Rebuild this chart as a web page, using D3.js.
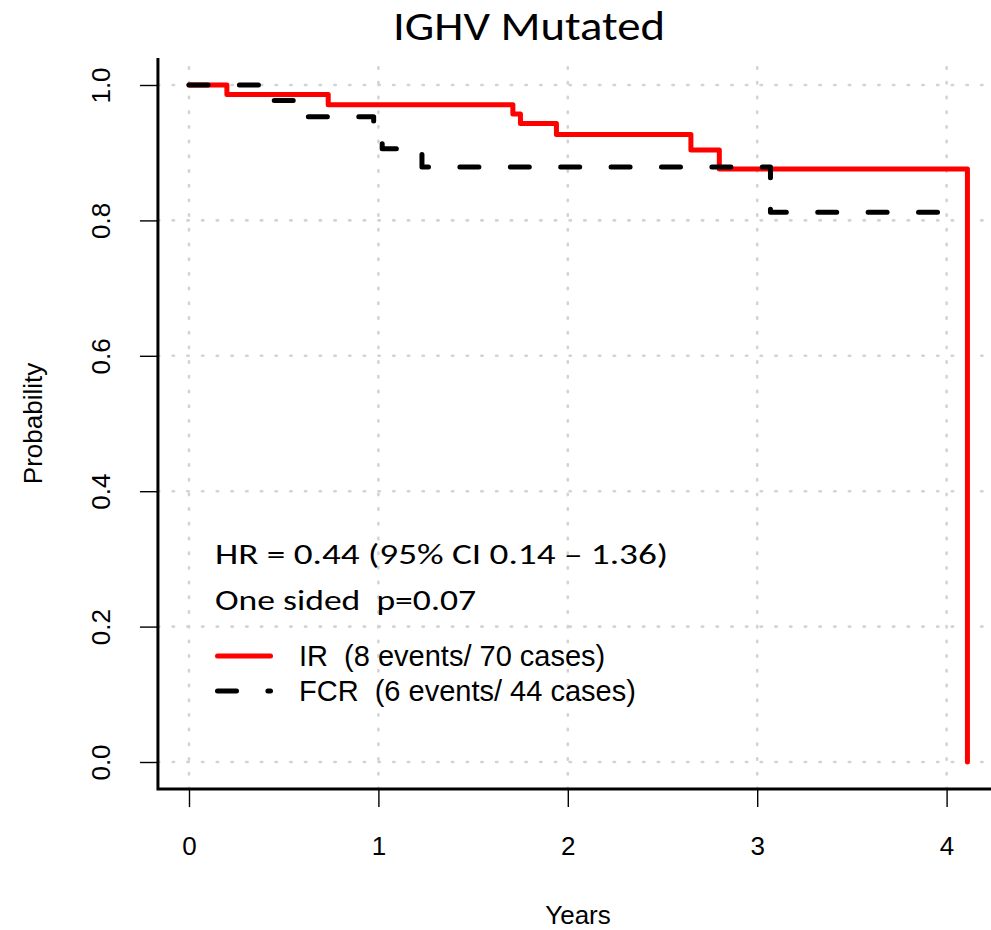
<!DOCTYPE html>
<html>
<head>
<meta charset="utf-8">
<script src="https://cdn.jsdelivr.net/npm/d3@7"></script>
<style>
  html, body { margin: 0; padding: 0; background: #ffffff; }
  svg { display: block; }
  text { white-space: pre; }
</style>
</head>
<body>
<svg id="chart" width="991" height="930"></svg>
<script>
// Kaplan–Meier step curves (time in years, survival probability)
const irTimes  = [0, 0.20, 0.735, 1.71, 1.75, 1.94, 2.65, 2.80, 4.11];
const irSurv   = [1, 0.986, 0.971, 0.957, 0.943, 0.927, 0.904, 0.876, 0];
const fcrTimes = [0, 0.41, 0.60, 0.975, 1.02, 1.23, 3.07, 4.0];
const fcrSurv  = [1, 0.977, 0.953, 0.932, 0.906, 0.879, 0.812, 0.812];

// Axis ticks
const xTicks = [0, 1, 2, 3, 4];
const yTicks = [0, 0.2, 0.4, 0.6, 0.8, 1.0];

// Text
const titleText = "IGHV Mutated";
const xLabel = "Years";
const yLabel = "Probability";
const statLines = ["HR = 0.44 (95% CI 0.14 \u2013 1.36)", "One sided  p=0.07"];
const legendLabels = ["IR  (8 events/ 70 cases)", "FCR  (6 events/ 44 cases)"];
const seriesColors = ["#ff0000", "#000000"];

const svg = d3.select("#chart");

// Scales: plot region extends 4% beyond data range (0..4.11, 0..1)
const x = d3.scaleLinear().domain([0, 4]).range([189, 946.6]);
const y = d3.scaleLinear().domain([0, 1]).range([762, 85]);
const xMin = -0.164, xMax = 4.274, yMin = -0.04, yMax = 1.04;

// Dotted grid
const grid = svg.append("g")
  .attr("stroke", "#d3d3d3")
  .attr("stroke-width", 2.6)
  .attr("stroke-linecap", "round")
  .attr("stroke-dasharray", "1.4 13.3")
  .attr("fill", "none");
grid.selectAll("line.v").data(xTicks).join("line").attr("class", "v")
  .attr("x1", d => x(d)).attr("x2", d => x(d))
  .attr("y1", y(yMin)).attr("y2", y(yMax));
grid.selectAll("line.h").data(yTicks).join("line").attr("class", "h")
  .attr("x1", x(xMin)).attr("x2", x(xMax))
  .attr("y1", d => y(d)).attr("y2", d => y(d));

// Survival curves
const line = d3.line().x(d => x(d[0])).y(d => y(d[1])).curve(d3.curveStepAfter);
const irData = irTimes.map((t, i) => [t, irSurv[i]]);
const fcrData = fcrTimes.map((t, i) => [t, fcrSurv[i]]);

svg.append("path").datum(irData)
  .attr("d", line)
  .attr("fill", "none")
  .attr("stroke", seriesColors[0])
  .attr("stroke-width", 5)
  .attr("stroke-linecap", "round")
  .attr("stroke-linejoin", "round");

svg.append("path").datum(fcrData)
  .attr("d", line)
  .attr("fill", "none")
  .attr("stroke", seriesColors[1])
  .attr("stroke-width", 5)
  .attr("stroke-linecap", "round")
  .attr("stroke-linejoin", "round")
  .attr("stroke-dasharray", "19 31.4");

// Axes
const xAxis = d3.axisBottom(x).tickValues(xTicks).tickSize(18).tickSizeOuter(0).tickFormat(d3.format("d"));
const yAxis = d3.axisLeft(y).tickValues(yTicks).tickSize(18).tickSizeOuter(0).tickFormat(d3.format(".1f"));

const gx = svg.append("g").attr("transform", `translate(0,${y(yMin)})`).call(xAxis);
const gy = svg.append("g").attr("transform", `translate(${x(xMin)},0)`).call(yAxis);

[gx, gy].forEach(g => {
  g.select(".domain").remove();
  g.selectAll(".tick line").attr("stroke", "#000").attr("stroke-width", 1.4);
  g.selectAll(".tick text")
    .attr("fill", "#000")
    .style("font-family", "'Liberation Sans', Arial, sans-serif")
    .style("font-size", "26px");
});
gx.selectAll(".tick text").attr("y", 0).attr("dy", 0).attr("transform", "translate(0,66)");
gy.selectAll(".tick text")
  .attr("x", 0).attr("dy", 0)
  .attr("text-anchor", "middle")
  .attr("transform", "translate(-48,0) rotate(-90)");

// L-shaped frame (left and bottom)
svg.append("path")
  .attr("d", `M${x(xMin)},${y(yMax)} V${y(yMin)} H${x(xMax)}`)
  .attr("fill", "none")
  .attr("stroke", "#000")
  .attr("stroke-width", 3);

// Title and axis labels
svg.append("text")
  .attr("x", 393).attr("y", 40)
  .attr("textLength", 272)
  .attr("lengthAdjust", "spacingAndGlyphs")
  .style("font-family", "Carlito, Calibri, Lato, sans-serif")
  .style("font-size", "40px")
  .text(titleText);

svg.append("text")
  .attr("x", 578).attr("y", 924)
  .attr("text-anchor", "middle")
  .style("font-family", "'Liberation Sans', Arial, sans-serif")
  .style("font-size", "26px")
  .text(xLabel);

svg.append("text")
  .attr("transform", `translate(42,${(y(yMin) + y(yMax)) / 2}) rotate(-90)`)
  .attr("text-anchor", "middle")
  .style("font-family", "'Liberation Sans', Arial, sans-serif")
  .style("font-size", "26px")
  .text(yLabel);

// Hazard ratio annotation
const statWidths = [453, 261];
svg.append("g").selectAll("text").data(statLines).join("text")
  .attr("x", 215)
  .attr("y", (d, i) => 564 + i * 46)
  .attr("textLength", (d, i) => statWidths[i])
  .attr("lengthAdjust", "spacingAndGlyphs")
  .style("font-family", "Carlito, Calibri, 'Open Sans', sans-serif")
  .style("font-size", "28px")
  .text(d => d);

// Legend
const legend = svg.append("g");
const legendY = [656, 691];
legendLabels.forEach((lab, i) => {
  legend.append("line")
    .attr("x1", 217.5).attr("x2", 270.5)
    .attr("y1", legendY[i]).attr("y2", legendY[i])
    .attr("stroke", seriesColors[i])
    .attr("stroke-width", 5)
    .attr("stroke-linecap", "round")
    .attr("stroke-dasharray", i === 1 ? "19 31.4" : null);
  legend.append("text")
    .attr("x", 299).attr("y", legendY[i] + 10)
    .style("font-family", "'Liberation Sans', Arial, sans-serif")
    .style("font-size", "29px")
    .text(lab);
});
</script>
</body>
</html>
